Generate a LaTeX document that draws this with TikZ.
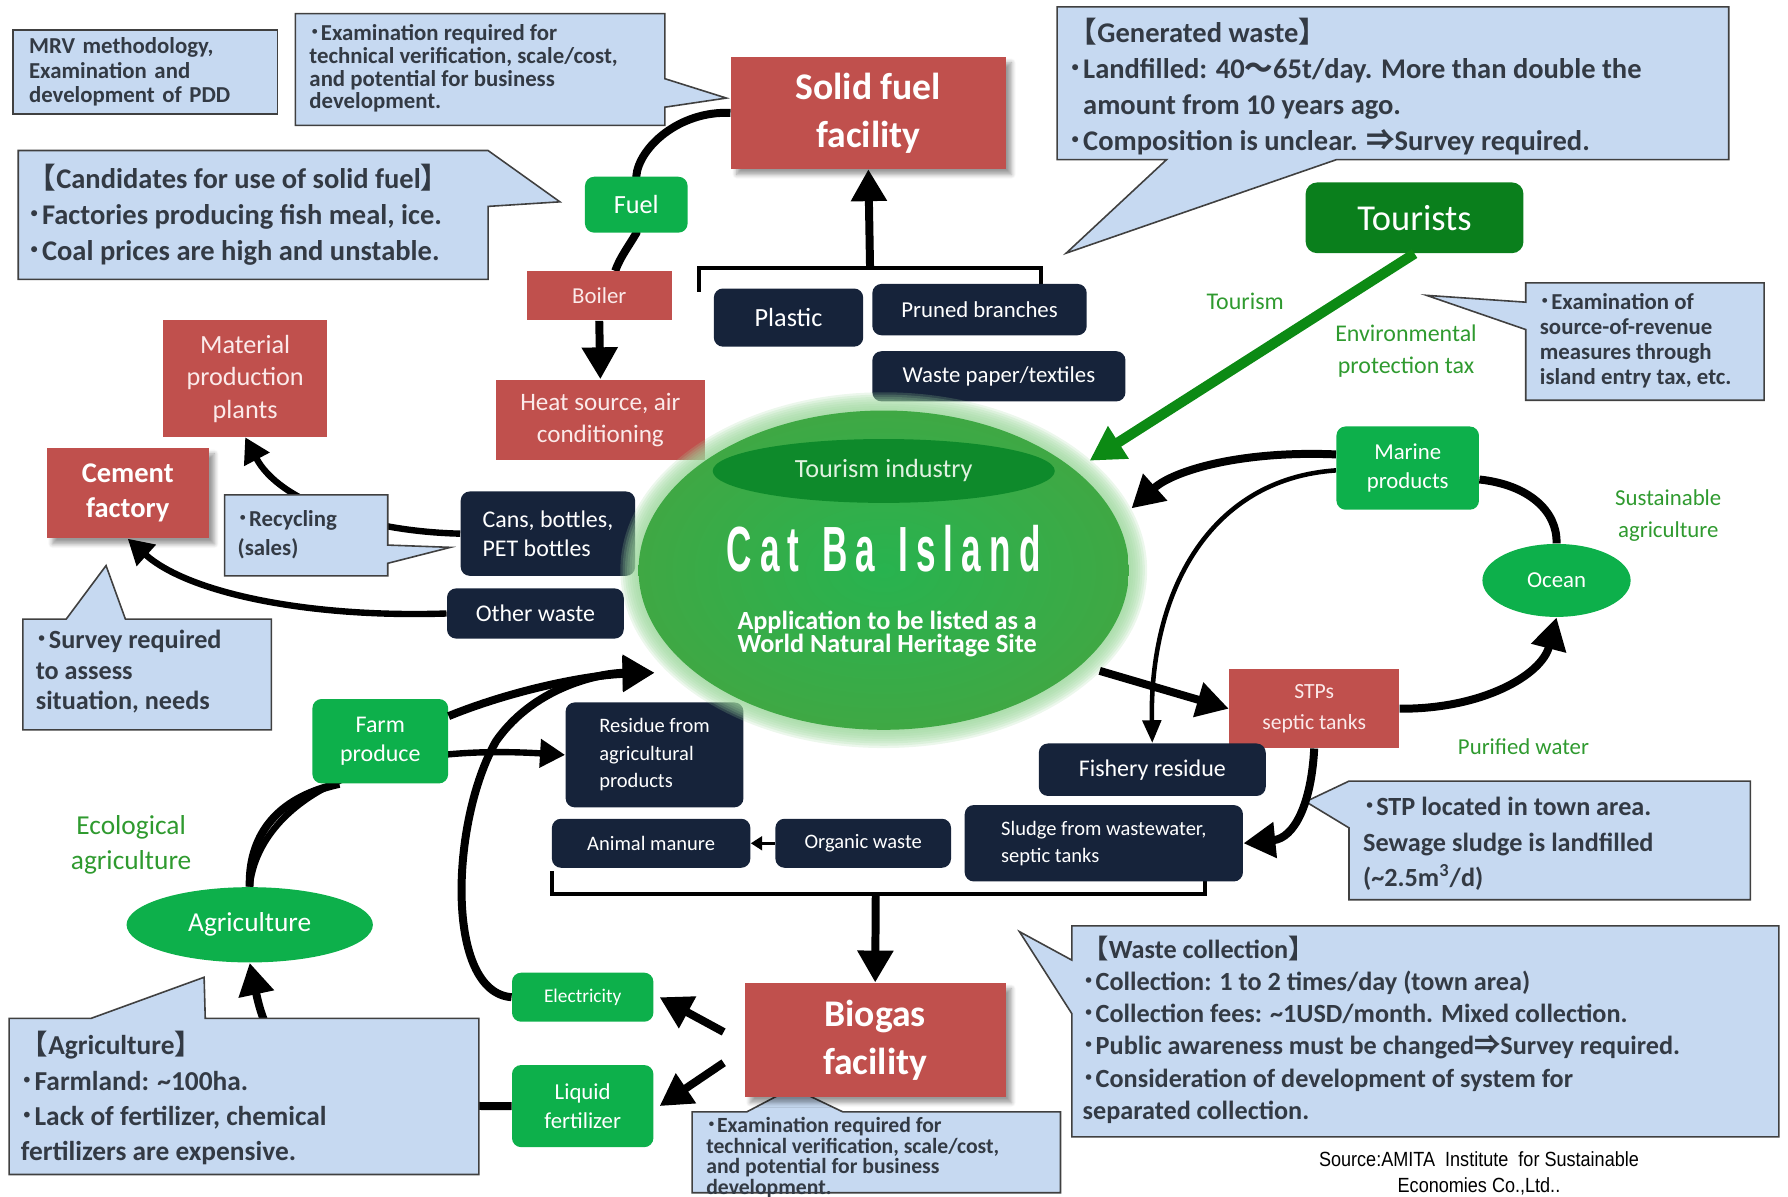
\documentclass[tikz,border=0pt]{standalone}
\usepackage{fontspec}
\setmainfont{Carlito}
\newfontfamily\cjk{Noto Sans CJK JP}
\newfontfamily\islefont{Liberation Sans}[FakeStretch=0.55,LetterSpace=13]
\newfontfamily\srcfont{Liberation Sans}[FakeStretch=0.88]
\usepackage{xcolor}
\definecolor{CRed}{HTML}{C0504D}
\definecolor{CRedText}{HTML}{FBEAEA}
\definecolor{CNavy}{HTML}{16233A}
\definecolor{CGreen}{HTML}{0DB04B}
\definecolor{CDarkGreen}{HTML}{0A7F1C}
\definecolor{CTourInd}{HTML}{0E8A2B}
\definecolor{CTourText}{HTML}{E0F2E0}
\definecolor{CIsle}{HTML}{28B34F}
\definecolor{CIsleEdge}{HTML}{3FA844}
\definecolor{CGlow}{HTML}{9ED89E}
\definecolor{CNote}{HTML}{C6D9F1}
\definecolor{CNoteLine}{HTML}{404040}
\definecolor{CNoteText}{HTML}{333A44}
\definecolor{CLabel}{HTML}{2F9A2F}
\definecolor{CArrowGreen}{HTML}{0C8A14}
\usepackage{tikz}
\usetikzlibrary{arrows.meta,shapes.geometric,shadows.blur}
\pgfdeclarelayer{bg}
\pgfsetlayers{bg,main}
\newcommand{\fsz}[2]{\fontsize{#1}{#2}\selectfont}
\newcommand{\nbul}{{\cjk ･}}
\newcommand{\openbr}{{\cjk 【}}
\newcommand{\closebr}{{\cjk 】}}
\tikzstyle{redNode}=[rectangle, fill=CRed, text=CRedText, align=center, inner sep=0pt]
\tikzstyle{bigRedNode}=[redNode, text=white, font=\fsz{16.5}{21}\bfseries,
  blur shadow={shadow xshift=2.5pt, shadow yshift=-2.5pt, shadow blur steps=6}]
\tikzstyle{wasteNode}=[rectangle, rounded corners=4pt, fill=CNavy, text=white, align=center, inner sep=0pt]
\tikzstyle{greenNode}=[rectangle, rounded corners=4pt, fill=CGreen, text=white, align=center, inner sep=0pt]
\tikzstyle{greenOval}=[ellipse, fill=CGreen, text=white, inner sep=0pt]
\tikzstyle{noteBox}=[fill=CNote, draw=CNoteLine, line width=0.7pt]
\tikzstyle{noteText}=[text=CNoteText, align=left, inner sep=0pt, anchor=west]
\tikzstyle{labelText}=[text=CLabel, align=center]
\tikzstyle{arr}=[-{Triangle[length=14pt,width=15pt]}, line width=3.5pt]
\tikzstyle{arrMid}=[-{Triangle[length=11pt,width=12pt]}, line width=2.8pt]
\tikzstyle{arrThin}=[-{Triangle[length=10pt,width=8pt]}, line width=2pt]
\tikzstyle{arrTiny}=[-{Triangle[length=5pt,width=6pt]}, line width=1.5pt]
\tikzstyle{arrGreen}=[-{Triangle[length=15pt,width=16pt]}, line width=4.5pt, draw=CArrowGreen]
\tikzstyle{flowLine}=[line width=3.5pt]
\tikzstyle{bracket}=[line width=1.6pt]
\begin{document}
\begin{tikzpicture}[x=0.5pt, y=-0.5pt]
\useasboundingbox (0,0) rectangle (1568,1049);

\node[noteBox, text=CNoteText, align=left, text width=102pt, minimum height=35pt, inner xsep=7pt,
  font=\fsz{10}{10.75}\bfseries] (mrv) at (127.5,63) {MRV methodology,\\Examination and\\development of PDD};

\draw[noteBox] (259,12) -- (583,12) -- (583,69) -- (637,86) -- (583,94) -- (583,110) -- (259,110) -- cycle;
\node[noteText, font=\fsz{10}{10}\bfseries] (examSolid) at (271,60)
  {\nbul Examination required for\\technical verification, scale/cost,\\and potential for business\\development.};

\draw[noteBox] (927,6) -- (1516,6) -- (1516,140) -- (1172,140) -- (935,222) -- (1023,140) -- (927,140) -- cycle;
\node[noteText, font=\fsz{12.5}{15.75}\bfseries] (genWaste) at (937,76)
  {\openbr Generated waste\closebr\\\nbul Landfilled: 40{\cjk ～}65t/day. More than double the\\
   \phantom{\nbul}amount from 10 years ago.\\\nbul Composition is unclear. {\cjk ⇒}Survey required.};

\draw[noteBox] (16,132) -- (428,132) -- (491,177) -- (428,181) -- (428,245) -- (16,245) -- cycle;
\node[noteText, font=\fsz{12.5}{15.75}\bfseries] (candidates) at (24,188)
  {\openbr Candidates for use of solid fuel\closebr\\\nbul Factories producing fish meal, ice.\\\nbul Coal prices are high and unstable.};

\draw[noteBox] (1338,248) -- (1547,248) -- (1547,351) -- (1338,351) -- (1338,289) -- (1251,259) -- (1338,265) -- cycle;
\node[noteText, font=\fsz{10}{11}\bfseries] (entryTax) at (1350,299)
  {\nbul Examination of\\source-of-revenue\\measures through\\island entry tax, etc.};

\draw[noteBox] (197,434) -- (340,434) -- (340,478) -- (395,480) -- (340,494) -- (340,505) -- (197,505) -- cycle;
\node[noteText, font=\fsz{10}{12.5}\bfseries] (recycling) at (208,469) {\nbul Recycling\\(sales)};

\draw[noteBox] (20,543) -- (58,543) -- (93,496) -- (110,543) -- (238,543) -- (238,640) -- (20,640) -- cycle;
\node[noteText, font=\fsz{11.5}{13.5}\bfseries] (survey) at (31,589) {\nbul Survey required\\to assess\\situation, needs};

\draw[noteBox] (8,893) -- (80,893) -- (179,857) -- (180,893) -- (420,893) -- (420,1030) -- (8,1030) -- cycle;
\node[noteText, font=\fsz{12}{15.5}\bfseries] (agriNote) at (18,963)
  {\openbr Agriculture\closebr\\\nbul Farmland: \textasciitilde100ha.\\\nbul Lack of fertilizer, chemical\\fertilizers are expensive.};

\draw[noteBox] (607,975) -- (655,975) -- (695,954) -- (739,975) -- (930,975) -- (930,1046) -- (607,1046) -- cycle;
\node[noteText, font=\fsz{9.5}{9}\bfseries] (examBiogas) at (619,1015)
  {\nbul Examination required for\\technical verification, scale/cost,\\and potential for business\\development.};

\draw[noteBox] (940,812) -- (1560,812) -- (1560,997) -- (940,997) -- (940,889) -- (894,817) -- (940,842) -- cycle;
\node[noteText, font=\fsz{11.5}{14.1}\bfseries] (collection) at (949,903)
  {\openbr Waste collection\closebr\\\nbul Collection: 1 to 2 times/day (town area)\\
   \nbul Collection fees: \textasciitilde1USD/month. Mixed collection.\\
   \nbul Public awareness must be changed{\cjk ⇒}Survey required.\\
   \nbul Consideration of development of system for\\separated collection.};

\draw[noteBox] (1183,685) -- (1535,685) -- (1535,789) -- (1183,789) -- (1183,726) -- (1145,703) -- cycle;
\node[noteText, font=\fsz{11.5}{15.5}\bfseries] (stpNote) at (1195,740)
  {\nbul STP located in town area.\\Sewage sludge is landfilled\\(\textasciitilde2.5m\textsuperscript{3}/d)};

\node[bigRedNode, minimum width=120.5pt, minimum height=49pt] (solid) at (761.5,99) {Solid fuel\\facility};
\node[redNode, minimum width=63.5pt, minimum height=21.5pt, font=\fsz{10}{12}] (boiler) at (525.5,259.5) {Boiler};
\node[redNode, minimum width=91.5pt, minimum height=35pt, font=\fsz{11}{14}] (heat) at (526.5,368) {Heat source, air\\conditioning};
\node[redNode, minimum width=72pt, minimum height=51pt, font=\fsz{11.5}{14.25}] (material) at (215,332) {Material\\production\\plants};
\node[bigRedNode, minimum width=71pt, minimum height=39.5pt, font=\fsz{12.5}{15.5}\bfseries] (cement) at (112,432.5) {Cement\\factory};
\node[bigRedNode, minimum width=114.5pt, minimum height=50pt] (biogas) at (767.5,912) {Biogas\\facility};
\node[redNode, minimum width=74.5pt, minimum height=34.5pt, font=\fsz{9.5}{13.5}] (stp) at (1152.5,621.5) {STPs\\septic tanks};

\node[greenNode, minimum width=45pt, minimum height=24.5pt, font=\fsz{11.5}{14}] (fuel) at (558,179.5) {Fuel};
\node[greenNode, fill=CDarkGreen, rounded corners=5pt, minimum width=95.5pt, minimum height=31pt, font=\fsz{16}{19}] (tourists) at (1240.5,191) {Tourists};
\node[greenNode, minimum width=59.5pt, minimum height=37pt, font=\fsz{10.5}{12.5}] (farm) at (333.5,650) {Farm\\produce};
\node[greenNode, minimum width=62pt, minimum height=21.5pt, font=\fsz{8.5}{10}] (elec) at (511,874.5) {Electricity};
\node[greenNode, minimum width=62pt, minimum height=36pt, font=\fsz{10}{12.5}] (liquid) at (511,970) {Liquid\\fertilizer};
\node[greenNode, minimum width=62.5pt, minimum height=36.5pt, font=\fsz{10}{13}] (marine) at (1234.5,410.5) {Marine\\products};
\node[greenOval, minimum width=108pt, minimum height=33pt, font=\fsz{12}{14}] (agri) at (219,811) {Agriculture};
\node[greenOval, minimum width=65pt, minimum height=32pt, font=\fsz{10}{12}] (ocean) at (1365,509) {Ocean};

\node[wasteNode, minimum width=65.5pt, minimum height=25.5pt, font=\fsz{11.5}{14}] (plastic) at (691.5,278.5) {Plastic};
\node[wasteNode, minimum width=94pt, minimum height=22.5pt, font=\fsz{10}{12}] (pruned) at (859,271.5) {Pruned branches};
\node[wasteNode, minimum width=111pt, minimum height=22pt, font=\fsz{10}{12}] (paper) at (876,330) {Waste paper/textiles};
\node[wasteNode, align=left, minimum width=76.5pt, minimum height=37pt, font=\fsz{10.5}{12.5}] (cans) at (480.5,468) {Cans, bottles,\\PET bottles};
\node[wasteNode, minimum width=77.5pt, minimum height=22pt, font=\fsz{10.5}{12.5}] (other) at (469.5,538) {Other waste};
\node[wasteNode, align=left, minimum width=78pt, minimum height=46pt, font=\fsz{9}{12}] (residue) at (574,662) {Residue from\\agricultural\\products};
\node[wasteNode, minimum width=87pt, minimum height=21.5pt, font=\fsz{9}{11}] (manure) at (571,739.5) {Animal manure};
\node[wasteNode, minimum width=77pt, minimum height=21.5pt, font=\fsz{9}{11}] (organic) at (757,739.5) {Organic waste};
\node[wasteNode, align=left, minimum width=122pt, minimum height=33.5pt, font=\fsz{9}{12}] (sludge) at (968,739.5) {Sludge from wastewater,\\septic tanks};
\node[wasteNode, minimum width=99.5pt, minimum height=23pt, font=\fsz{10.5}{12.5}] (fishery) at (1010.5,675) {Fishery residue};

\node[labelText, font=\fsz{10.5}{12}] (lblTourism) at (1092,264) {Tourism};
\node[labelText, font=\fsz{10.5}{14}] (lblTax) at (1233,308) {Environmental\\protection tax};
\node[labelText, font=\fsz{10}{14}] (lblSust) at (1463,452) {Sustainable\\agriculture};
\node[labelText, font=\fsz{10}{12}] (lblPurified) at (1336,655) {Purified water};
\node[labelText, font=\fsz{12}{15.5}] (lblEco) at (115,741) {Ecological\\agriculture};
\node[align=center, font=\srcfont\fsz{9}{11.5}] (source) at (1297,1029) {Source:AMITA\ \ Institute\ \ for Sustainable\\Economies Co.,Ltd..};

\node[ellipse, minimum width=232pt, minimum height=152pt, inner sep=0pt] (island) at (775,500) {};
\foreach \g in {1,3,...,17}
  \fill[CGlow, opacity=0.2] (island.center) ellipse [x radius=214+\g, y radius=139+\g];
\shade[inner color=CIsle, outer color=CIsleEdge] (island.center) ellipse [x radius=215, y radius=140];
\node[ellipse, fill=CTourInd, text=CTourText, minimum width=150pt, minimum height=28pt, inner sep=0pt,
  font=\fsz{11.5}{14}] (tourInd) at (775,413) {Tourism industry};
\node[text=white, font=\islefont\bfseries\fsz{28}{30}] (catBa) at (775,481) {Cat\hspace{2pt} Ba\hspace{2pt} Island};
\node[text=white, align=center, font=\fsz{11.5}{10.5}\bfseries] (application) at (778,556) {Application to be listed as a\\World Natural Heritage Site};

\coordinate (topBrL) at (613,256);
\coordinate (topBrM) at (763,235);
\coordinate (topBrR) at (913,252);
\coordinate (botBrL) at (484,764);
\coordinate (botBrM) at (768,784);
\coordinate (botBrR) at (1057,770);
\coordinate (isleIn) at (574,590);

\draw[arr] (boiler.south) -- (heat.north);
\draw[arr] (topBrM) -- (solid.south);
\draw[arrGreen] (tourists.south) -- (island.28);
\draw[arr] ([yshift=6pt]marine.west) .. controls (1090,395) and (1030,412) .. (island.14);
\draw[arr] (island.-25) -- (stp.west);
\draw[arr] (stp.east) .. controls (1300,622) and (1352,592) .. (ocean.south);
\draw[flowLine] ([yshift=-5pt]marine.east) .. controls (1340,425) and (1366,448) .. (ocean.north);
\draw[arr] (stp.south) .. controls (1150,705) and (1135,735) .. (sludge.east);
\draw[arrTiny] (organic.west) -- (manure.east);
\draw[arr] (botBrM) -- (biogas.north);
\draw[arr] ([xshift=-9pt,yshift=3.5pt]biogas.west) -- ([xshift=2.5pt]elec.east);
\draw[arr] ([xshift=-9pt,yshift=-10pt]biogas.west) -- ([xshift=2.5pt]liquid.east);
\draw[arr] (elec.west) .. controls (390,870) and (395,720) .. (435,650) .. controls (470,600) and (530,590) .. (isleIn);
\draw[arr] ([yshift=11pt]farm.east) .. controls (450,605) and (515,592) .. (isleIn);
\draw[arrMid] (other.west) .. controls (270,542) and (165,520) .. (cement.south);

\begin{pgfonlayer}{bg}
\draw[flowLine] (solid.west) .. controls (595,97) and (560,130) .. (fuel.north) -- (fuel.south)
  .. controls (552,215) and (544,225) .. ([xshift=7pt]boiler.north);
\draw[bracket] (topBrL) |- (topBrM) -| (topBrR);
\draw[bracket] (botBrL) |- (botBrM) -| (botBrR);
\draw[arrMid] (cans.west) .. controls (320,466) and (245,440) .. (material.south);
\draw[flowLine] (agri.north) .. controls (218,735) and (240,700) .. ([xshift=12pt]farm.south west);
\draw[arrMid] (agri.north) .. controls (225,715) and (300,650) .. (residue.west);
\draw[arr] (liquid.west) .. controls (260,972) and (235,920) .. (agri.south);
\draw[arrThin] ([yshift=-1pt]marine.west) .. controls (1060,420) and (1008,520) .. (fishery.north);
\end{pgfonlayer}
\end{tikzpicture}
\end{document}
